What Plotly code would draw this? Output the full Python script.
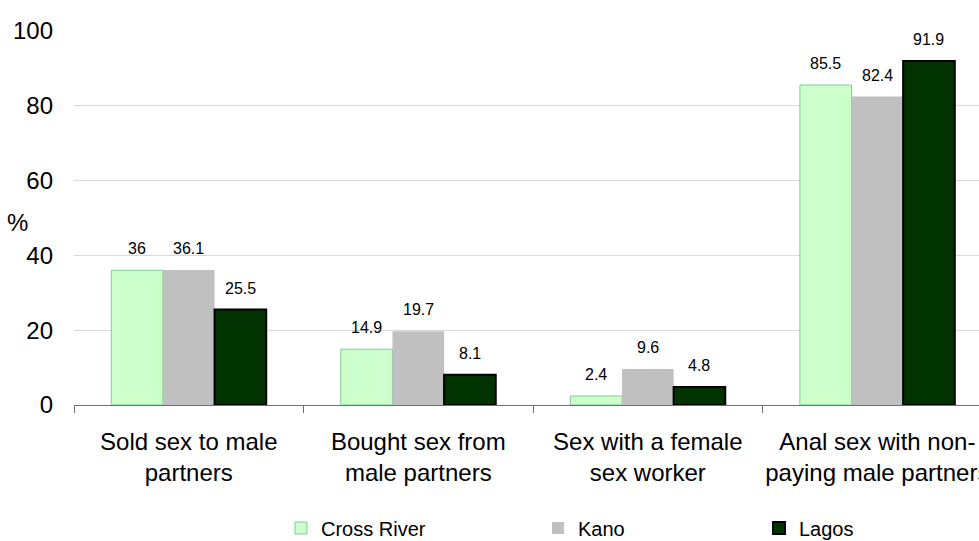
import plotly.graph_objects as go

categories = [
    "Sold sex to male<br>partners",
    "Bought sex from<br>male partners",
    "Sex with a female<br>sex worker",
    "Anal sex with non-<br>paying male partners",
]
cross_river = [36, 14.9, 2.4, 85.5]
kano = [36.1, 19.7, 9.6, 82.4]
lagos = [25.5, 8.1, 4.8, 91.9]
y_ticks = [0, 20, 40, 60, 80, 100]

FONT = "Liberation Sans, Arial, sans-serif"

W, H = 979, 541
ML, MR, MT, MB = 74, 0, 30, 136
X_RANGE = [-0.5, 3.443]
BARGAP = 0.325

series = [
    ("Cross River", cross_river, "#CCFFCC", "#7FCC99", 1, "legend", 0.2287),
    ("Kano", kano, "#C0C0C0", "#C0C0C0", 0, "legend2", 0.5127),
    ("Lagos", lagos, "#003300", "#000000", 2, "legend3", 0.7569),
]

fig = go.Figure()
for name, vals, fill, line, lw, leg, _ in series:
    fig.add_trace(go.Bar(
        name=name, x=categories, y=vals,
        marker=dict(color=fill, line=dict(color=line, width=lw)),
        legend=leg, hoverinfo="x+y+name",
    ))

# value labels above each bar (offset to the bar of each series in the group)
px_per_cat = (W - ML - MR) / (X_RANGE[1] - X_RANGE[0])
bar_w = px_per_cat * (1 - BARGAP) / len(series)
for i, (name, vals, *_rest) in enumerate(series):
    for cat, v in zip(categories, vals):
        fig.add_annotation(
            x=cat, y=v, xref="x", yref="y", text=f"{v:g}", showarrow=False,
            xanchor="center", yanchor="bottom", xshift=(i - 1) * bar_w, yshift=11,
            font=dict(size=16, color="#000000", family=FONT),
        )

plot_h = H - MT - MB
legend_common = dict(orientation="h", yanchor="middle", y=(405 - 528) / plot_h,
                     xanchor="left",
                     font=dict(size=20, color="#000000", family=FONT),
                     bgcolor="rgba(0,0,0,0)")
layout_legends = {}
for name, vals, fill, line, lw, leg, lx in series:
    layout_legends[leg] = dict(legend_common, x=lx)

fig.update_layout(
    width=W, height=H,
    margin=dict(l=ML, r=MR, t=MT, b=MB, autoexpand=False),
    paper_bgcolor="white", plot_bgcolor="white",
    barmode="group", bargap=BARGAP, bargroupgap=0,
    font=dict(family=FONT, color="#000000"),
    showlegend=True,
    **layout_legends,
)
fig.update_xaxes(
    range=X_RANGE, showgrid=False, automargin=False,
    showline=True, linecolor="#707070", linewidth=1,
    ticks="outside", tickson="boundaries", ticklen=7, tickcolor="#707070",
    tickfont=dict(size=24, color="#000000", family=FONT),
    ticklabelstandoff=15,
)
fig.update_yaxes(
    range=[0, 100.2], tickvals=y_ticks, showgrid=True, gridcolor="#D9D9D9", gridwidth=1,
    showline=False, zeroline=False, ticks="", automargin=False,
    tickfont=dict(size=24, color="#000000", family=FONT),
    ticklabelstandoff=20,
)
fig.add_annotation(text="%", xref="paper", yref="paper", x=-0.0625, y=0.487,
                   xanchor="center", yanchor="middle", showarrow=False,
                   font=dict(size=24, color="#000000", family=FONT))

fig.write_html("out.html", config={"displayModeBar": False},
               post_script="document.body.style.margin='0px';")
